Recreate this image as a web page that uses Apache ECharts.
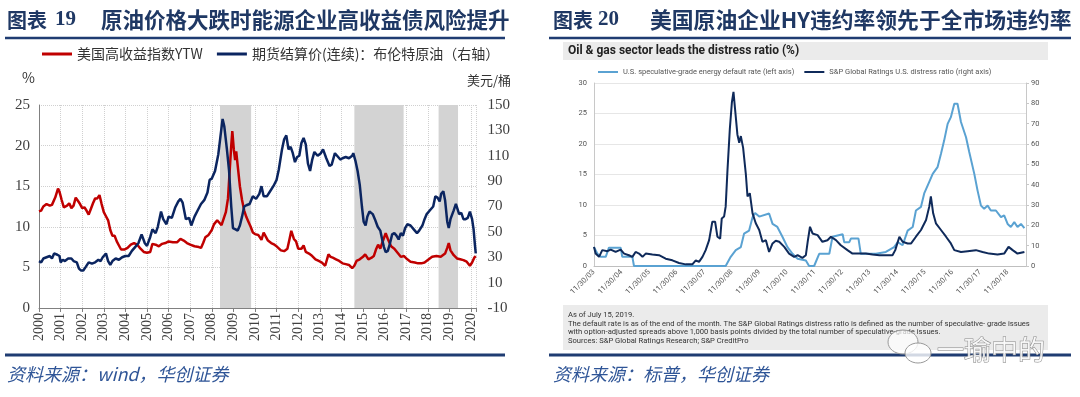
<!DOCTYPE html>
<html>
<head>
<meta charset="utf-8">
<script src="https://cdn.jsdelivr.net/npm/echarts@6.0.0/dist/echarts.min.js"></script>
<style>
html,body{margin:0;padding:0;background:#fff}
#main{width:1080px;height:397px}
</style>
</head>
<body>
<div id="main"></div>
<script>
// 左图：美国高收益指数YTW(%) 与 布伦特原油(美元/桶)，[年份, 数值]
var hyYtw = [[2000.0,11.9],[2000.1,12.0],[2000.2,12.5],[2000.35,12.8],[2000.5,12.6],[2000.6,12.7],[2000.75,13.6],[2000.88,14.7],[2000.95,14.3],[2001.05,13.3],[2001.15,12.4],[2001.3,12.6],[2001.4,12.9],[2001.5,12.3],[2001.6,12.6],[2001.7,13.6],[2001.8,13.2],[2001.9,12.8],[2002.0,12.3],[2002.1,12.4],[2002.2,12.0],[2002.3,11.5],[2002.4,12.2],[2002.5,12.9],[2002.6,13.5],[2002.7,13.5],[2002.8,13.9],[2002.9,12.8],[2003.0,11.8],[2003.1,11.3],[2003.2,10.8],[2003.3,9.6],[2003.4,8.9],[2003.5,8.9],[2003.6,8.2],[2003.7,7.7],[2003.8,7.2],[2003.95,7.2],[2004.1,7.4],[2004.25,7.8],[2004.4,8.0],[2004.55,7.8],[2004.7,7.3],[2004.85,6.9],[2005.0,6.8],[2005.15,6.9],[2005.25,7.9],[2005.4,7.8],[2005.55,7.6],[2005.7,7.9],[2005.85,8.0],[2006.0,8.2],[2006.2,8.1],[2006.4,8.1],[2006.55,8.5],[2006.7,8.3],[2006.85,8.0],[2007.0,7.8],[2007.2,7.6],[2007.4,7.5],[2007.5,7.4],[2007.6,8.0],[2007.7,8.7],[2007.85,9.0],[2008.0,9.6],[2008.1,10.3],[2008.25,10.8],[2008.35,10.5],[2008.45,10.2],[2008.55,11.0],[2008.65,11.8],[2008.75,13.5],[2008.83,17.0],[2008.9,20.0],[2008.95,21.8],[2009.02,19.5],[2009.08,18.2],[2009.13,19.3],[2009.2,17.5],[2009.3,15.0],[2009.4,13.3],[2009.5,12.0],[2009.6,11.2],[2009.7,10.6],[2009.8,10.0],[2009.9,9.3],[2010.0,9.1],[2010.15,9.0],[2010.3,8.4],[2010.4,9.3],[2010.5,8.8],[2010.6,8.3],[2010.75,8.0],[2010.9,7.8],[2011.0,7.6],[2011.2,7.1],[2011.35,7.0],[2011.5,7.3],[2011.6,8.5],[2011.68,9.5],[2011.8,8.5],[2011.9,8.2],[2012.0,7.3],[2012.15,7.3],[2012.25,7.7],[2012.35,6.9],[2012.5,6.7],[2012.65,6.4],[2012.8,6.0],[2012.95,5.8],[2013.1,5.6],[2013.25,5.2],[2013.4,6.6],[2013.5,6.3],[2013.6,6.2],[2013.75,6.0],[2013.9,5.8],[2014.05,5.5],[2014.2,5.4],[2014.35,5.3],[2014.5,4.9],[2014.6,5.2],[2014.7,5.8],[2014.85,6.0],[2015.0,6.3],[2015.1,6.6],[2015.25,6.0],[2015.4,6.2],[2015.5,6.4],[2015.6,7.2],[2015.7,7.8],[2015.8,7.3],[2015.9,8.1],[2016.05,9.2],[2016.15,8.5],[2016.3,7.6],[2016.45,7.3],[2016.6,6.8],[2016.75,6.3],[2016.9,6.4],[2017.05,6.0],[2017.2,5.7],[2017.4,5.6],[2017.55,5.5],[2017.7,5.5],[2017.85,5.6],[2018.0,5.9],[2018.2,6.3],[2018.4,6.4],[2018.6,6.3],[2018.8,6.7],[2018.9,7.4],[2018.97,8.0],[2019.05,7.1],[2019.2,6.5],[2019.35,6.1],[2019.5,6.0],[2019.65,5.9],[2019.8,5.7],[2019.95,5.2],[2020.05,5.6],[2020.15,6.2],[2020.22,6.4]];

var brent = [[2000.0,27],[2000.1,26],[2000.2,29],[2000.35,30],[2000.5,31],[2000.6,29],[2000.7,33],[2000.85,32],[2000.95,31],[2001.0,26],[2001.1,28],[2001.2,27],[2001.35,29],[2001.5,29],[2001.6,27],[2001.75,26],[2001.85,21],[2001.95,19.5],[2002.05,19.5],[2002.15,22],[2002.3,26],[2002.45,25],[2002.6,26],[2002.75,28],[2002.85,27],[2002.95,30],[2003.1,33],[2003.2,27],[2003.3,24],[2003.4,27],[2003.55,29],[2003.7,28],[2003.85,30],[2004.0,31],[2004.15,31],[2004.3,35],[2004.45,38],[2004.6,41],[2004.75,48],[2004.9,41],[2005.0,39],[2005.15,46],[2005.25,52],[2005.4,49],[2005.5,54],[2005.65,66],[2005.75,60],[2005.9,56],[2006.0,62],[2006.15,61],[2006.3,69],[2006.45,74],[2006.55,76],[2006.65,73],[2006.8,60],[2006.95,61],[2007.05,55],[2007.2,62],[2007.35,67],[2007.5,72],[2007.65,75],[2007.8,81],[2007.9,91],[2008.0,92],[2008.15,98],[2008.3,111],[2008.4,125],[2008.5,139],[2008.58,133],[2008.7,115],[2008.8,98],[2008.9,70],[2008.98,53],[2009.1,52],[2009.2,51],[2009.3,55],[2009.4,62],[2009.5,70],[2009.6,71],[2009.75,72],[2009.9,78],[2010.05,76],[2010.2,80],[2010.3,86],[2010.4,78],[2010.55,78],[2010.7,82],[2010.85,86],[2011.0,91],[2011.1,99],[2011.25,115],[2011.35,123],[2011.45,126],[2011.55,115],[2011.65,117],[2011.75,112],[2011.85,105],[2011.95,109],[2012.05,110],[2012.15,120],[2012.25,124],[2012.35,119],[2012.45,104],[2012.55,98],[2012.65,107],[2012.75,113],[2012.9,110],[2013.05,112],[2013.15,115],[2013.3,108],[2013.45,102],[2013.55,103],[2013.7,112],[2013.8,110],[2013.95,107],[2014.05,108],[2014.2,109],[2014.35,108],[2014.5,110],[2014.55,112],[2014.65,106],[2014.75,98],[2014.85,87],[2014.95,70],[2015.03,58],[2015.12,55],[2015.2,62],[2015.3,66],[2015.45,64],[2015.55,60],[2015.68,54],[2015.8,51],[2015.9,43],[2015.97,38],[2016.05,34],[2016.15,35],[2016.25,41],[2016.35,48],[2016.45,49],[2016.55,47],[2016.65,44],[2016.75,49],[2016.85,47],[2016.95,53],[2017.05,56],[2017.2,55],[2017.35,52],[2017.5,49],[2017.6,51],[2017.75,55],[2017.85,60],[2017.95,64],[2018.1,67],[2018.25,70],[2018.35,78],[2018.45,77],[2018.55,74],[2018.62,80],[2018.72,82],[2018.8,75],[2018.9,58],[2018.97,53],[2019.05,60],[2019.2,67],[2019.3,72],[2019.38,71],[2019.45,64],[2019.55,65],[2019.65,60],[2019.75,60],[2019.85,61],[2019.95,66],[2020.05,60],[2020.12,52],[2020.18,40],[2020.22,33]];

// 阴影区间（年份）
var shadeBands = [[2008.38, 2009.82], [2014.6, 2016.88], [2018.5, 2019.4]];

// 右图：以 2003年11月 为 0 的月份序号
var energyDefault = [[0,3.1],[1.5,2.0],[2.9,1.5],[5.1,1.5],[6.5,3.0],[11.6,3.0],[12.3,1.5],[16.7,1.5],[17.4,0],[57.3,0],[59.5,1.5],[61.7,2.6],[63.9,3.1],[65.3,5.3],[67.5,5.8],[69,8.0],[70.1,8.7],[71.9,8.1],[76.2,8.6],[77.7,6.9],[79.8,6.4],[82,4.8],[84.2,3.1],[86.4,2.0],[88.6,1.2],[92.2,0.9],[93.6,0],[95.8,0],[98,2.0],[102.4,2.0],[103.8,4.8],[108.2,5.2],[108.9,3.9],[111.1,3.9],[111.8,4.5],[115.1,4.5],[116.1,2.0],[122.7,2.0],[127,2.3],[130.6,3.1],[132.2,3.9],[134.3,3.4],[136.5,5.8],[138.7,6.4],[140.1,9.1],[142.3,9.7],[143.7,11.9],[145.9,13.8],[147.4,15.1],[149.5,16.2],[151,18.4],[152.4,20.6],[153.9,23.3],[155.3,24.4],[156.8,26.6],[158.2,26.6],[159.7,23.6],[161.9,21.1],[163.3,18.7],[165.5,15.1],[166.9,12.4],[168.4,9.9],[169.8,9.4],[171.3,9.9],[172.7,9.1],[174.9,9.1],[177.1,8.0],[178.5,8.3],[180,6.9],[181.4,6.4],[182.9,7.2],[184.3,6.4],[185.8,6.9],[187.3,6.2]];

var distressRatio = [[0,9.4],[0.7,6.1],[2.2,4.5],[3.6,7.8],[5.8,7.3],[7.3,8.1],[9.4,6.9],[11.6,8.1],[13.1,6.1],[15.2,5.3],[16.7,4.5],[18.1,6.9],[19.6,6.1],[21.1,4.5],[22.5,6.1],[25.4,5.6],[28.3,5.3],[31.2,3.6],[34.1,2.8],[37,1.5],[39.9,0.8],[42.8,0.8],[44.3,2.8],[45.7,2.0],[47.2,4.5],[48.6,7.8],[50.1,12.7],[51.5,21.8],[52.7,21.8],[53.7,14.4],[54.9,13.5],[55.6,23.4],[56.6,24.3],[57.3,29.2],[58.1,47.4],[59.1,67.2],[60,80.4],[60.7,85.6],[61.4,77],[62.4,64.7],[63.2,60.6],[63.9,63.9],[64.9,58.1],[66.1,44.9],[66.8,34.2],[67.8,35.8],[69,25.9],[70.4,21],[71.9,17.7],[73.3,11.9],[74.8,12.7],[76.2,6.9],[77.7,11.1],[79.1,12.4],[80.6,11.9],[82.8,9.4],[84.9,6.1],[87.1,4.5],[88.6,5.3],[90.7,4.0],[92.2,5.3],[93,12],[94,19.3],[95.1,16],[97.3,15.2],[99.4,11.9],[101.6,12.7],[103.1,14.4],[105.3,12.7],[107.4,10.2],[110.3,7.8],[112.5,6.1],[115.4,6.1],[118.3,6.1],[121.2,5.6],[124.2,5.3],[127,5.3],[129.9,5.3],[131.1,7.8],[132.9,14.4],[134.3,11.9],[136.5,11.1],[138,11.1],[140.1,14.4],[142.3,17.7],[144.5,22.6],[145.9,29.2],[146.6,34.2],[147.6,25.9],[148.8,21],[151,17.7],[153.2,14.4],[155.3,11.1],[156.8,7.8],[159.7,6.9],[162.6,7.3],[166.2,7.8],[169.1,6.9],[172,6.1],[175.6,5.6],[178.5,6.1],[180.4,9.4],[182.2,7.8],[184.3,6.1],[187.3,6.9]];

var footNotes = [
  'As of July 15, 2019.',
  'The default rate is as of the end of the month. The S&P Global Ratings distress ratio is defined as the number of speculative- grade issues',
  'with option-adjusted spreads above 1,000 basis points divided by the total number of speculative-grade issues.',
  'Sources: S&P Global Ratings Research; S&P CreditPro'
];

var chart = echarts.init(document.getElementById('main'));
var navyLine = '#1F3C72';
var titleColor = '#1F3864';
var cjk = '"Noto Sans CJK SC", sans-serif';
var serif = '"Liberation Serif", "DejaVu Serif", serif';
var sans = 'Roboto, "Liberation Sans", sans-serif';

function text(x, y, s, size, extra) {
  var st = { text: s, x: 0, y: 0, fontSize: size, fontFamily: cjk, fill: '#333', verticalAlign: 'middle', align: 'left' };
  for (var k in extra) st[k] = extra[k];
  return { type: 'text', x: x, y: y, z: 10, style: st };
}
function hline(x1, x2, y, w, c) {
  return { type: 'line', z: 10, shape: { x1: x1, y1: y, x2: x2, y2: y }, style: { stroke: c, lineWidth: w } };
}

var graphics = [
  // 标题
  text(7, 20, '图表', 20, { fontWeight: 'bold', fill: titleColor }),
  text(55, 20, '19', 21, { fontWeight: 'bold', fill: titleColor, fontFamily: serif }),
  text(101, 20, '原油价格大跌时能源企业高收益债风险提升', 21.5, { fontWeight: 'bold', fill: titleColor }),
  text(553, 20, '图表', 20, { fontWeight: 'bold', fill: titleColor }),
  text(598, 20, '20', 21, { fontWeight: 'bold', fill: titleColor, fontFamily: serif }),
  text(650, 20, '美国原油企业HY违约率领先于全市场违约率', 21.8, { fontWeight: 'bold', fill: titleColor }),
  hline(5, 505, 38, 2.5, navyLine),
  hline(549, 1071, 38, 2.5, navyLine),
  // 左图单位
  text(22, 78, '%', 14, {}),
  text(467, 80, '美元/桶', 13, {}),
  // 右图灰色框
  { type: 'rect', z: 0, shape: { x: 563, y: 42, width: 485, height: 18 }, style: { fill: '#EBEBEB' } },
  { type: 'rect', z: 0, shape: { x: 563, y: 305, width: 485, height: 45 }, style: { fill: '#EBEBEB' } },
  text(568, 51, 'Oil & gas sector leads the distress ratio (%)', 12, { fontWeight: 'bold', fill: '#222', fontFamily: sans }),
  // 底部分割线与来源
  hline(5, 505, 355, 3, navyLine),
  hline(549, 1071, 355, 3, navyLine),
  text(7, 374, '资料来源：wind，华创证券', 18, { fontStyle: 'italic', fill: '#2F5597' }),
  text(553, 374, '资料来源：标普，华创证券', 18, { fontStyle: 'italic', fill: '#2F5597' }),
  // 水印
  { type: 'ellipse', z: 20, shape: { cx: 903, cy: 342, rx: 15, ry: 12 }, style: { fill: 'rgba(255,255,255,0.7)', stroke: '#999', lineWidth: 1 } },
  { type: 'ellipse', z: 21, shape: { cx: 918, cy: 353, rx: 13, ry: 10 }, style: { fill: 'rgba(255,255,255,0.8)', stroke: '#999', lineWidth: 1 } },
  text(937, 350, '一瑜中的', 27, { fill: 'rgba(255,255,255,0.85)', stroke: '#8a8a8a', lineWidth: 1 })
];
graphics[graphics.length - 1].z = 22;
footNotes.forEach(function (s, i) {
  graphics.push(text(568, 315 + i * 8.7, s, 7.6, { fontFamily: sans, fill: '#333' }));
});

var option = {
  animation: false,
  backgroundColor: '#fff',
  legend: [
    {
      left: 42, top: 47, padding: 0, itemWidth: 30, itemHeight: 3, itemGap: 14,
      textStyle: { fontSize: 14, color: '#333', fontFamily: cjk },
      data: [{ name: '美国高收益指数YTW', icon: 'rect' }, { name: '期货结算价(连续)：布伦特原油（右轴）', icon: 'rect' }]
    },
    {
      left: 598, top: 68, padding: 0, itemWidth: 20, itemHeight: 2, itemGap: 10,
      textStyle: { fontSize: 7.5, color: '#555', fontFamily: sans },
      data: [{ name: 'U.S. speculative-grade energy default rate (left axis)', icon: 'rect' }, { name: 'S&P Global Ratings U.S. distress ratio (right axis)', icon: 'rect' }]
    }
  ],
  grid: [
    { left: 39, right: 603.6, top: 105, bottom: 89 },
    { left: 594, right: 54, top: 83, bottom: 131 }
  ],
  xAxis: [
    {
      type: 'value', gridIndex: 0, min: 2000, max: 2020.25, interval: 1,
      axisLine: { lineStyle: { color: '#808080' } },
      axisTick: { show: true, length: 4, lineStyle: { color: '#808080' } },
      axisLabel: {
        rotate: 90, margin: 5, fontSize: 14, color: '#404040', fontFamily: serif,
        formatter: function (v) { return Math.abs(v - Math.round(v)) < 1e-6 ? String(Math.round(v)) : ''; }
      },
      splitLine: { show: true, lineStyle: { color: '#D0D0D0', type: 'dotted' } }
    },
    {
      type: 'value', gridIndex: 1, min: 0, max: 188, interval: 12,
      axisLine: { lineStyle: { color: '#BFBFBF' } },
      axisTick: { show: false },
      axisLabel: {
        rotate: 45, margin: 5, fontSize: 7.5, color: '#555', fontFamily: sans,
        formatter: function (v) {
          if (v % 12 !== 0) return '';
          var yy = 3 + v / 12;
          return '11/30/' + (yy < 10 ? '0' : '') + yy;
        }
      },
      splitLine: { show: false }
    }
  ],
  yAxis: [
    {
      type: 'value', gridIndex: 0, min: 0, max: 25, interval: 5,
      axisLine: { show: true, lineStyle: { color: '#808080' } },
      axisTick: { show: false },
      axisLabel: { fontSize: 15, color: '#404040', fontFamily: serif, margin: 9 },
      splitLine: { show: true, lineStyle: { color: '#D0D0D0', type: 'dotted' } }
    },
    {
      type: 'value', gridIndex: 0, min: -10, max: 150, interval: 20, position: 'right',
      axisLine: { show: false }, axisTick: { show: false },
      axisLabel: { fontSize: 15, color: '#404040', fontFamily: serif, margin: 11 },
      splitLine: { show: false }
    },
    {
      type: 'value', gridIndex: 1, min: 0, max: 30, interval: 5,
      axisLine: { show: true, lineStyle: { color: '#C8C8C8' } },
      axisTick: { show: false },
      axisLabel: { fontSize: 7.5, color: '#555', fontFamily: sans, margin: 7 },
      splitLine: { show: true, lineStyle: { color: '#E6E6E6' } }
    },
    {
      type: 'value', gridIndex: 1, min: 0, max: 90, interval: 10, position: 'right',
      axisLine: { show: true, lineStyle: { color: '#C8C8C8' } },
      axisTick: { show: true, length: 3, lineStyle: { color: '#C8C8C8' } },
      axisLabel: { fontSize: 7.5, color: '#555', fontFamily: sans, margin: 5 },
      splitLine: { show: false }
    }
  ],
  series: [
    {
      name: 'shade', type: 'line', xAxisIndex: 0, yAxisIndex: 0, data: [], silent: true, z: 1,
      markArea: {
        silent: true,
        itemStyle: { color: '#D3D3D3' },
        data: shadeBands.map(function (b) { return [{ xAxis: b[0] }, { xAxis: b[1] }]; })
      }
    },
    {
      name: '美国高收益指数YTW', type: 'line', xAxisIndex: 0, yAxisIndex: 0,
      data: hyYtw, showSymbol: false, z: 3,
      lineStyle: { color: '#C00000', width: 2.5 }, itemStyle: { color: '#C00000' }
    },
    {
      name: '期货结算价(连续)：布伦特原油（右轴）', type: 'line', xAxisIndex: 0, yAxisIndex: 1,
      data: brent, showSymbol: false, z: 4,
      lineStyle: { color: '#0B2560', width: 2.5 }, itemStyle: { color: '#0B2560' }
    },
    {
      name: 'U.S. speculative-grade energy default rate (left axis)', type: 'line', xAxisIndex: 1, yAxisIndex: 2,
      data: energyDefault, showSymbol: false, z: 3,
      lineStyle: { color: '#5AA2D2', width: 2 }, itemStyle: { color: '#5AA2D2' }
    },
    {
      name: 'S&P Global Ratings U.S. distress ratio (right axis)', type: 'line', xAxisIndex: 1, yAxisIndex: 3,
      data: distressRatio, showSymbol: false, z: 4,
      lineStyle: { color: '#0F2A5A', width: 2 }, itemStyle: { color: '#0F2A5A' }
    }
  ],
  graphic: graphics
};
chart.setOption(option);
</script>
</body>
</html>
